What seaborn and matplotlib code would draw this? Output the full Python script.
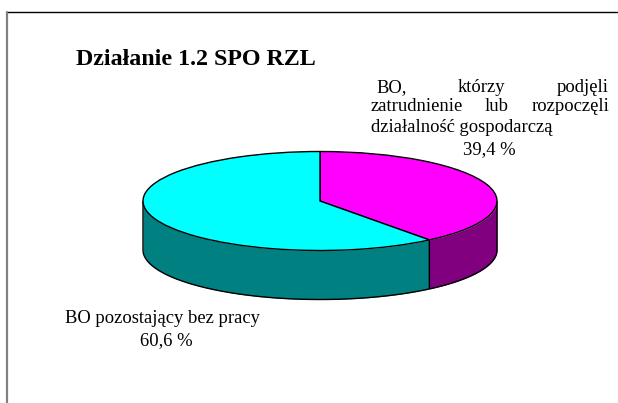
import numpy as np
import matplotlib
matplotlib.use("Agg")
import matplotlib.pyplot as plt
import seaborn as sns

# --- DATA ---
labels = ["BO, którzy podjęli zatrudnienie", "BO pozostający bez pracy"]
shares = [39.4, 60.6]
top_colors = ["#FF00FF", "#00FFFF"]
side_colors = ["#800080", "#008080"]

W, H = 618, 403
CX, CY = 320, 201   # pie centre in pixels
RX, RY = 177, 49.5  # ellipse radii in pixels
DEPTH = 49 / RY     # wall height in y units

sns.set_theme(style="white")
plt.rcParams["font.family"] = ["Liberation Serif", "DejaVu Serif"]

fig = plt.figure(figsize=(W / 100, H / 100), dpi=100, facecolor="white")
ax = fig.add_axes([0, 0, 1, 1])

# top face
ax.pie(shares, colors=top_colors, startangle=90, counterclock=False, radius=1,
       wedgeprops={"edgecolor": "black", "linewidth": 1.0, "zorder": 3})
ax.set_aspect("auto")
ax.set_xlim(-CX / RX, (W - CX) / RX)
ax.set_ylim(-(H - CY) / RY, CY / RY)
ax.set_axis_on()
ax.set_xticks([])
ax.set_yticks([])
for s in ax.spines.values():
    s.set_visible(False)

# walls, only the front half of the ellipse shows
split = 360 + 90 - shares[0] * 3.6
spans = [(split, 360), (180, split)]
for (a, b), col in zip(spans, side_colors):
    t = np.radians(np.linspace(a, b, 120))
    ax.fill_between(np.cos(t), np.sin(t), np.sin(t) - DEPTH, color=col, lw=0, zorder=1)
    ax.plot(np.cos(t), np.sin(t) - DEPTH, color="black", lw=1.0, zorder=2,
            solid_capstyle="butt", snap=False)
for x in [-1, np.cos(np.radians(split)), 1]:
    y = 0 if abs(x) == 1 else np.sin(np.radians(split))
    ax.plot([x, x], [y, y - DEPTH], color="black", lw=1.0, zorder=2,
            solid_capstyle="butt", snap=False)

# frame, just top and left
fig.add_artist(plt.Line2D([7 / W, 1], [1 - 12 / H, 1 - 12 / H], color="black", lw=1.0))
fig.add_artist(plt.Line2D([7 / W, 7 / W], [0, 1 - 12 / H], color="#808080", lw=1.6))


def px_text(x, y, s, **kw):
    kw.setdefault("fontsize", 13.4)
    kw.setdefault("color", "black")
    kw.setdefault("va", "baseline")
    fig.text(x / W, 1 - y / H, s, **kw)


px_text(76, 65, "Działanie 1.2 SPO RZL", fontsize=17.3, fontweight="bold")

# justified label, words set one by one
px_text(376, 92, "BO,")
px_text(458, 92, "którzy")
px_text(609, 92, "podjęli", ha="right")
px_text(371, 111, "zatrudnienie")
px_text(497, 111, "lub", ha="center")
px_text(609, 111, "rozpoczęli", ha="right")
px_text(371, 132, "działalność gospodarczą")
px_text(489, 154, "39,4 %", ha="center")

px_text(162.5, 323, "BO pozostający bez pracy", ha="center")
px_text(166, 345, "60,6 %", ha="center")

fig.savefig("out.png", dpi=100)
